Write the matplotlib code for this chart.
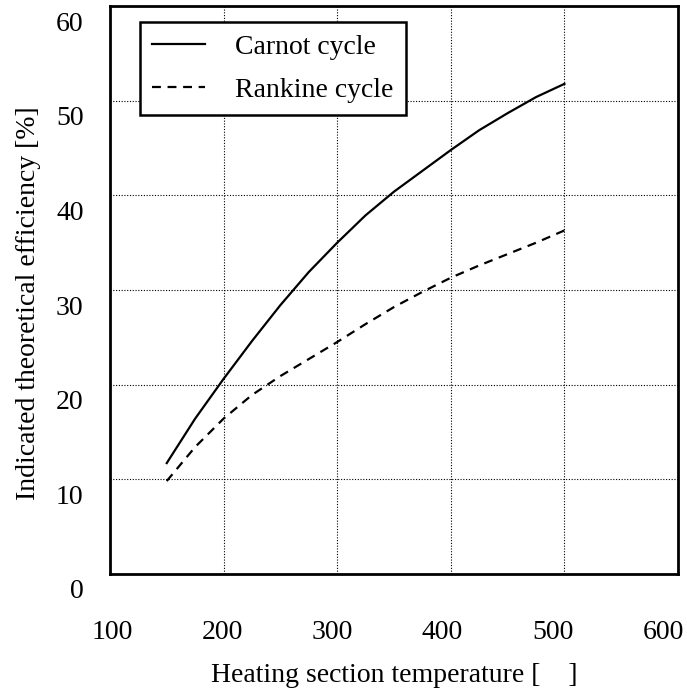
import matplotlib

matplotlib.use("Agg")
import matplotlib.pyplot as plt
from matplotlib.transforms import ScaledTranslation

# values
temperature = [150, 175, 200, 225, 250, 275, 300, 325, 350, 375, 400, 425, 450, 475, 500]
carnot = [11.7, 16.4, 20.6, 24.6, 28.4, 31.9, 35.0, 37.9, 40.4, 42.6, 44.8, 46.9, 48.7, 50.4, 51.8]
rankine = [9.8, 13.4, 16.4, 18.9, 20.9, 22.7, 24.5, 26.4, 28.2, 29.8, 31.3, 32.6, 33.8, 35.0, 36.3]

x_ticks = [100, 200, 300, 400, 500, 600]
y_ticks = [0, 10, 20, 30, 40, 50, 60]

plt.rcParams["font.family"] = ["Liberation Serif", "DejaVu Serif"]
plt.rcParams["font.size"] = 20

fig = plt.figure(figsize=(6.87, 6.92), dpi=100)
ax = fig.add_axes([0.160, 0.1709, 0.827, 0.820])

ax.plot(temperature, carnot, color="black", lw=1.6, label="Carnot cycle")
ax.plot(temperature, rankine, color="black", lw=1.6, ls=(0, (4, 3)), label="Rankine cycle")

ax.set_xlim(100, 600)
ax.set_ylim(0, 60)
ax.set_xticks(x_ticks)
ax.set_yticks(y_ticks)
ax.grid(True, color="black", ls=(0, (1, 1.5)), lw=0.8)
ax.tick_params(length=0)
ax.tick_params(axis="x", pad=33)
ax.tick_params(axis="y", pad=19)
for spine in ax.spines.values():
    spine.set_linewidth(2)

# the tick labels in the original sit a little off their grid lines
down = ScaledTranslation(0, -15 / 100, fig.dpi_scale_trans)
for label in ax.get_yticklabels():
    label.set_transform(label.get_transform() + down)
for i, label in enumerate(ax.get_xticklabels()):
    left = ScaledTranslation((2 - 3.4 * i) / 100, 0, fig.dpi_scale_trans)
    label.set_transform(label.get_transform() + left)

ax.set_xlabel("Heating section temperature [    ]")
ax.set_ylabel("Indicated theoretical efficiency [%]")
ax.xaxis.set_label_coords(0.5, -0.157)
ax.yaxis.set_label_coords(-0.122, 0.476)

leg = ax.legend(loc="upper left", bbox_to_anchor=(0.053, 0.972), borderaxespad=0,
                fancybox=False, framealpha=1, edgecolor="black", handlelength=1.9,
                handletextpad=1.1, borderpad=0.43, labelspacing=0.65)
leg.get_frame().set_linewidth(1.8)

fig.savefig("out.png", dpi=100)
